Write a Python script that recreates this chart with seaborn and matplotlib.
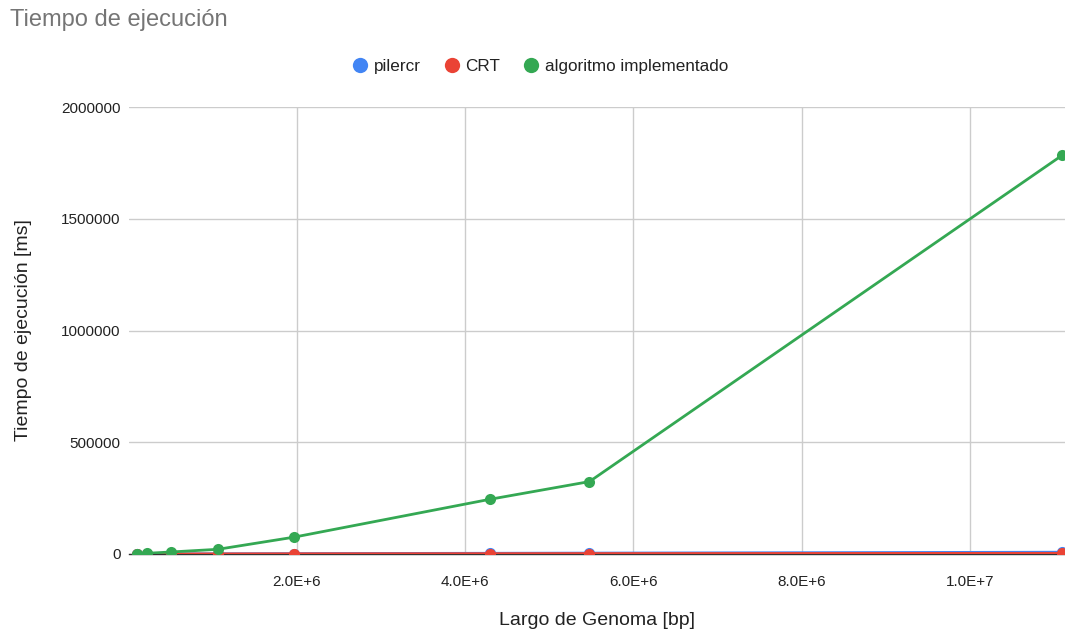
import matplotlib
matplotlib.use("Agg")
import matplotlib.pyplot as plt
from matplotlib.lines import Line2D
import seaborn as sns
import pandas as pd

# Genome length (bp) of each test case
genome_bp = [94000, 213000, 503000, 1060000, 1960000, 4297000, 5477000, 11100000]

# Execution time in ms for each tool
pilercr_ms = [100, 200, 450, 900, 1700, 3200, 4000, 8000]
crt_ms = [60, 120, 250, 500, 900, 1500, 1900, 3000]
algoritmo_ms = [1500, 3000, 9000, 21000, 75000, 245000, 324000, 1785000]

series_names = ["pilercr", "CRT", "algoritmo implementado"]
series_colors = ["#4285F4", "#EA4335", "#34A853"]

x_ticks = [2e6, 4e6, 6e6, 8e6, 1e7]
x_tick_labels = ["2.0E+6", "4.0E+6", "6.0E+6", "8.0E+6", "1.0E+7"]
y_ticks = [0, 500000, 1000000, 1500000, 2000000]

df = pd.DataFrame({
    "genoma": genome_bp * 3,
    "tiempo": pilercr_ms + crt_ms + algoritmo_ms,
    "serie": [s for s, vals in zip(series_names, [pilercr_ms, crt_ms, algoritmo_ms]) for _ in vals],
})

sns.set_style("white")
plt.rcParams["font.family"] = ["Liberation Sans", "DejaVu Sans"]

fig = plt.figure(figsize=(10.65, 6.34), dpi=100)
ax = fig.add_axes([0.1209, 0.1262, 0.8791, 0.7050])

sns.lineplot(
    data=df, x="genoma", y="tiempo", hue="serie",
    hue_order=series_names, palette=series_colors,
    marker="o", markersize=8, markeredgewidth=0, linewidth=2,
    legend=False, ax=ax, clip_on=True,
)

ax.set_xlim(0, 11.13e6)
ax.set_ylim(0, 2000000)
ax.set_xticks(x_ticks)
ax.set_xticklabels(x_tick_labels)
ax.set_yticks(y_ticks)
ax.set_yticklabels([str(v) for v in y_ticks])

ax.grid(True, color="#cccccc", linewidth=1)
ax.set_axisbelow(True)
for side in ["left", "right", "top"]:
    ax.spines[side].set_visible(False)
ax.spines["bottom"].set_color("#333333")
ax.spines["bottom"].set_linewidth(1)
ax.spines["bottom"].set_zorder(1)

ax.tick_params(axis="x", length=0, pad=15, labelsize=11, labelcolor="#222222")
ax.tick_params(axis="y", length=0, pad=6, labelsize=11, labelcolor="#222222")

ax.set_xlabel("Largo de Genoma [bp]", fontsize=14, color="#222222", labelpad=17)
ax.set_ylabel("Tiempo de ejecución [ms]", fontsize=14, color="#222222", labelpad=21)

fig.text(0.009, 0.969, "Tiempo de ejecución", fontsize=17, color="#757575",
         ha="left", va="center")

handles = [Line2D([], [], linestyle="none", marker="o", markersize=11,
                  markerfacecolor=c, markeredgewidth=0) for c in series_colors]
fig.legend(handles, series_names, loc="center", bbox_to_anchor=(0.507, 0.895),
           ncol=3, frameon=False, fontsize=12.3, handletextpad=0.3,
           columnspacing=1.3, handlelength=1.0, labelcolor="#222222")

fig.savefig("out.png", dpi=100)
